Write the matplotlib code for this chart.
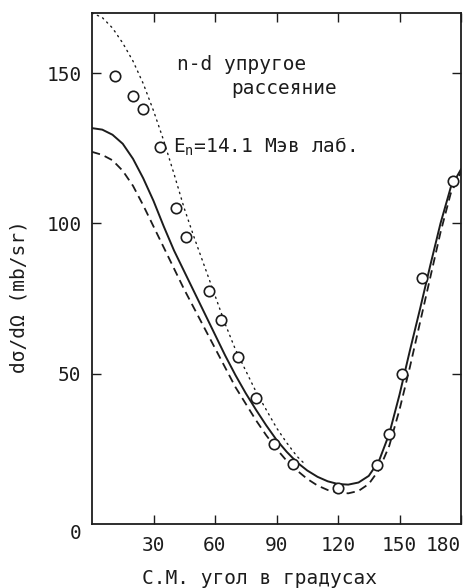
import matplotlib
matplotlib.use("Agg")
import matplotlib.pyplot as plt

# ---- data ----
exp_angle = [11, 20, 25, 33, 41, 46, 57, 63, 71, 80, 89, 98, 120, 139, 145, 151, 161, 176]
exp_xs = [149, 142.5, 138, 125.5, 105, 95.5, 77.5, 68, 55.5, 42, 26.5, 20, 12, 19.5, 30, 50, 82, 114]

solid_angle = [0, 5, 10, 15, 20, 25, 30, 35, 40, 45, 50, 55, 60, 65, 70, 75, 80, 85, 90, 95,
               100, 105, 110, 115, 120, 125, 130, 135, 140, 145, 150, 155, 160, 165, 170, 175, 180]
solid_xs = [131.7, 131.2, 129.5, 126.5, 121.5, 115, 107.5, 99, 91, 84, 77, 70, 63, 56, 49.5,
            43.5, 38, 32.8, 28, 24, 20.5, 17.8, 15.7, 14.2, 13.3, 13.1, 13.8, 16, 21, 30, 43,
            57.5, 71.5, 86, 100, 112, 118]

dashed_angle = [0, 5, 10, 15, 20, 25, 30, 35, 40, 45, 50, 55, 60, 65, 70, 75, 80, 85, 90, 95,
                100, 105, 110, 115, 120, 125, 130, 135, 140, 145, 150, 155, 160, 165, 170, 175, 180]
dashed_xs = [123.8, 122.8, 121, 117.5, 112.5, 106, 99, 92, 85, 78, 71.5, 65, 58.5, 52, 45.5,
             40, 34.5, 29.5, 25, 21, 17.8, 15, 12.8, 11.3, 10.5, 10.2, 11, 13.3, 18, 26, 38,
             52, 67, 82, 97, 110, 117]

dotted_angle = [0, 5, 10, 15, 20, 25, 30, 35, 40, 45, 50, 55, 60, 65, 70, 75, 80, 85, 90, 95, 100, 103]
dotted_xs = [170, 168.5, 165, 160, 154, 146.5, 137.5, 127.5, 116.5, 105, 95, 85.5, 76, 66.5, 58,
             51, 44, 38, 32, 27, 22.5, 20.5]

xticks = [30, 60, 90, 120, 150, 180]
yticks = [50, 100, 150]

INK = "#1c1c1c"
FONT = "DejaVu Sans Mono"
FS = 14

plt.rcParams["font.family"] = [FONT]
plt.rcParams["mathtext.default"] = "regular"

fig = plt.figure(figsize=(4.71, 5.88), dpi=100)
ax = fig.add_axes([92 / 471, 1 - 524 / 588, 369 / 471, 511 / 588])

ax.plot(solid_angle, solid_xs, color=INK, lw=1.4, zorder=3)
ax.plot(dashed_angle, dashed_xs, color=INK, lw=1.3, linestyle=(0, (4.6, 2.8)), zorder=3)
ax.plot(dotted_angle, dotted_xs, color=INK, lw=1.0, linestyle=(0, (1, 3.2)),
        dash_capstyle="round", zorder=3)
ax.plot(exp_angle, exp_xs, linestyle="none", marker="o", markersize=7.5,
        markerfacecolor="white", markeredgecolor=INK, markeredgewidth=1.2, zorder=4)

ax.set_xlim(0, 180)
ax.set_ylim(0, 170)

ax.set_xticks(xticks)
ax.set_xticklabels([str(v) for v in xticks])
ax.set_yticks(yticks)
ax.set_yticklabels([str(v) for v in yticks])
ax.get_xticklabels()[-1].set_ha("right")

ax.tick_params(axis="both", which="both", direction="in", length=6.5, width=1.0,
               color=INK, labelcolor=INK, labelsize=FS, top=True, right=True)
ax.tick_params(axis="x", pad=8.5)
ax.tick_params(axis="y", pad=7.5)
for s in ax.spines.values():
    s.set_linewidth(1.3)
    s.set_color(INK)

# origin label "0"
ax.text(-7.8, -3.2, "0", ha="center", va="center", fontsize=FS, color=INK, clip_on=False)

ax.text(41.5, 153, "n-d упругое", ha="left", va="center", fontsize=FS, color=INK)
ax.text(68.0, 145, "рассеяние", ha="left", va="center", fontsize=FS, color=INK)
ax.text(39.5, 125.5, r"$E_n$=14.1 Мэв лаб.", ha="left", va="center", fontsize=FS, color=INK)

ax.set_xlabel("С.М. угол в градусах", fontsize=FS, color=INK, va="center")
ax.xaxis.set_label_coords(0.455, (524 - 578) / 511)
ax.set_ylabel("dσ/dΩ (mb/sr)", fontsize=FS, color=INK, va="center")
ax.yaxis.set_label_coords((19 - 92) / 369, (524 - 297) / 511)

fig.savefig("out.png", dpi=100)
